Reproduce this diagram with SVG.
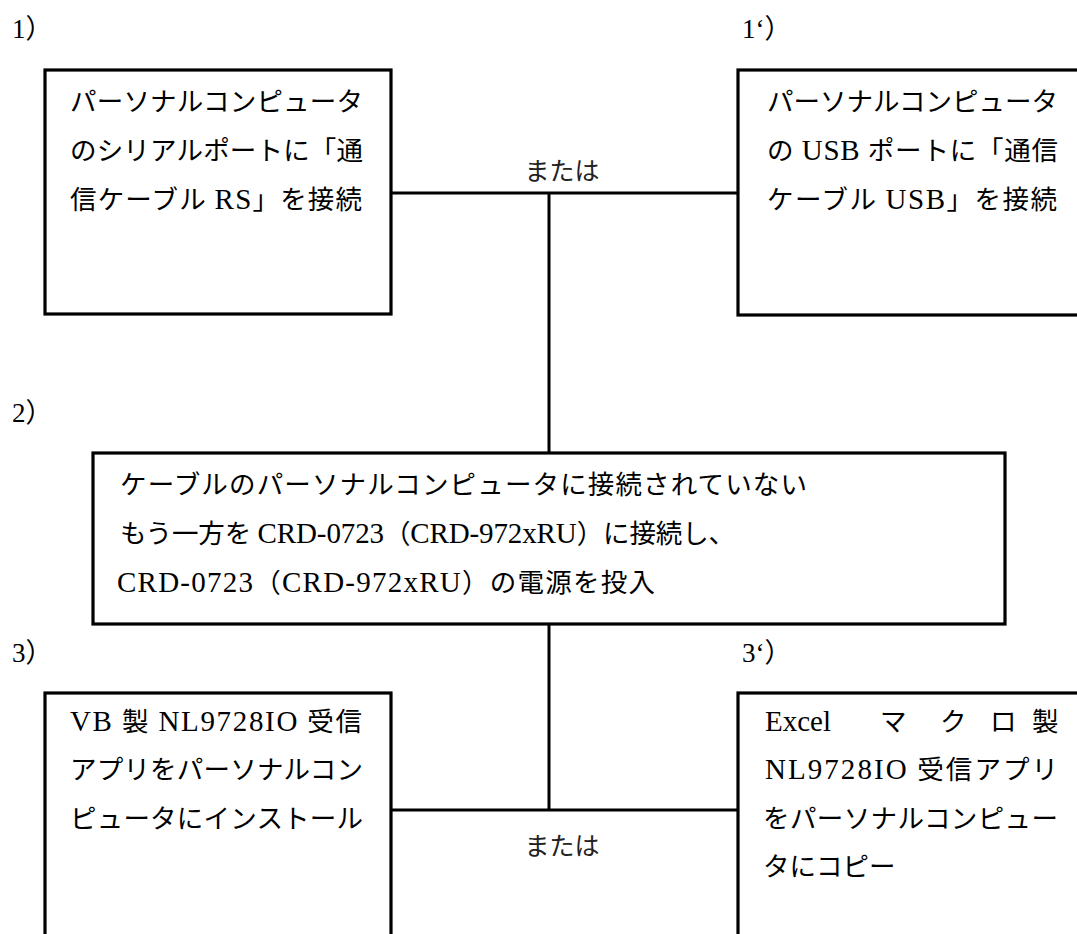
<svg xmlns="http://www.w3.org/2000/svg" width="1077" height="934" viewBox="0 0 1077 934">
<style>
.box{fill:#fff;stroke:#000;stroke-width:3.2}
.con{fill:none;stroke:#000;stroke-width:3}
.t{font-family:"Liberation Serif","Noto Sans CJK JP",serif;font-size:26.5px;fill:#000}
.l{font-size:29px}
.or{font-family:"Noto Sans CJK JP",sans-serif;font-size:25px;fill:#222}
.lbl{font-family:"Liberation Serif","Noto Sans CJK JP",serif;font-size:27px;fill:#000}
</style>
<rect width="1077" height="934" fill="#fff"/>
<g id="connectors">
<line class="con" x1="391" y1="193" x2="738" y2="193"/>
<line class="con" x1="549" y1="193" x2="549" y2="453"/>
<line class="con" x1="549" y1="624" x2="549" y2="810"/>
<line class="con" x1="391" y1="810" x2="738" y2="810"/>
<text class="or" x="562" y="180" text-anchor="middle">または</text>
<text class="or" x="562" y="855" text-anchor="middle">または</text>
</g>
<g id="labels">
<text class="lbl" x="12" y="38">1）</text>
<text class="lbl" x="742" y="38">1‘）</text>
<text class="lbl" x="12" y="422">2）</text>
<text class="lbl" x="12" y="662">3）</text>
<text class="lbl" x="742" y="662">3‘）</text>
</g>
<g id="node1">
<rect class="box" x="45" y="70" width="346" height="244"/>
<text class="t" x="70" y="111" textLength="293" lengthAdjust="spacing">パーソナルコンピュータ</text>
<text class="t" x="70" y="160" textLength="293" lengthAdjust="spacing">のシリアルポートに「通</text>
<text class="t" x="70" y="209" textLength="292" lengthAdjust="spacing">信ケーブル <tspan class="l">RS</tspan>」を接続</text>
</g>
<g id="node1b">
<rect class="box" x="738" y="70" width="400" height="245"/>
<text class="t" x="767" y="111" textLength="291" lengthAdjust="spacing">パーソナルコンピュータ</text>
<text class="t" x="767" y="160" textLength="291" lengthAdjust="spacing">の <tspan class="l">USB</tspan> ポートに「通信</text>
<text class="t" x="767" y="209" textLength="290" lengthAdjust="spacing">ケーブル <tspan class="l">USB</tspan>」を接続</text>
</g>
<g id="node2">
<rect class="box" x="93" y="453" width="912" height="171"/>
<text class="t" x="120" y="494" textLength="687" lengthAdjust="spacing">ケーブルのパーソナルコンピュータに接続されていない</text>
<text class="t" x="120" y="543" textLength="615" lengthAdjust="spacing">もう一方を <tspan class="l">CRD-0723</tspan>（<tspan class="l">CRD-972xRU</tspan>）に接続し、</text>
<text class="t" x="117" y="592" textLength="538" lengthAdjust="spacing"><tspan class="l">CRD-0723</tspan>（<tspan class="l">CRD-972xRU</tspan>）の電源を投入</text>
</g>
<g id="node3">
<rect class="box" x="45" y="693" width="346" height="300"/>
<text class="t" x="70" y="731" textLength="292" lengthAdjust="spacing"><tspan class="l">VB</tspan> 製 <tspan class="l">NL9728IO</tspan> 受信</text>
<text class="t" x="70" y="779" textLength="293" lengthAdjust="spacing">アプリをパーソナルコン</text>
<text class="t" x="70" y="828" textLength="293" lengthAdjust="spacing">ピュータにインストール</text>
</g>
<g id="node3b">
<rect class="box" x="738" y="693" width="400" height="300"/>
<text class="t" y="731"><tspan class="l" x="765">Excel</tspan><tspan x="880">マ</tspan><tspan x="940">ク</tspan><tspan x="990">ロ</tspan><tspan x="1032">製</tspan></text>
<text class="t" x="765" y="779" textLength="293" lengthAdjust="spacing"><tspan class="l">NL9728IO</tspan> 受信アプリ</text>
<text class="t" x="763" y="828" textLength="295" lengthAdjust="spacing">をパーソナルコンピュー</text>
<text class="t" x="763" y="876">タにコピー</text>
</g>
</svg>
